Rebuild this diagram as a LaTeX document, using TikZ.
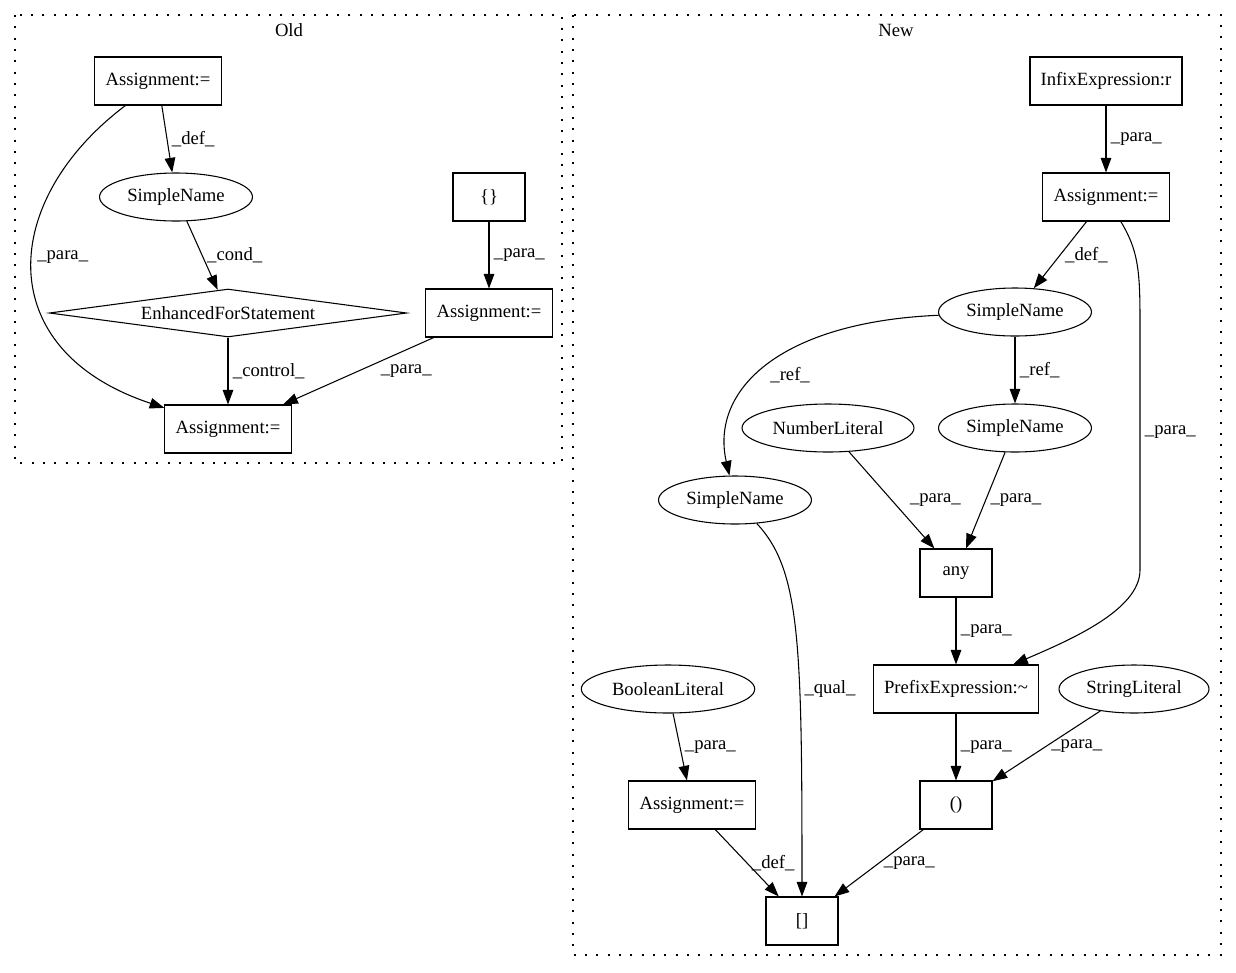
\documentclass[tikz,border=0pt]{standalone}
\usepackage{fontspec}
\setmainfont{Liberation Serif}
\usetikzlibrary{arrows.meta,shapes.geometric}

\tikzset{
  box/.style={rectangle, draw, minimum width=54pt, minimum height=36pt, inner xsep=8pt},
  oval/.style={ellipse, draw, minimum height=36pt, inner xsep=4pt},
  loopcond/.style={diamond, draw, aspect=7, minimum width=268pt, minimum height=36pt, inner sep=0pt},
  cluster/.style={-, draw, dash pattern=on 1.5pt off 7pt},
}

\begin{document}
\begin{tikzpicture}[x=0.75pt, y=-0.75pt, ->, >={Triangle[length=11pt,width=8pt]},
    line width=0.8pt, font=\fontsize{14}{16}\selectfont]

    \useasboundingbox (0,0) rectangle (1236,972);

    % clusters
    \draw[cluster] (15,15) rectangle (562,463);
    \node (oldtitle) at (289,30) {Old};
    \draw[cluster] (573,15) rectangle (1221,955);
    \node (newtitle) at (896,30) {New};

    % old
    \node[box] (oldasg1) at (158,81) {Assignment:=};
    \node[oval] (oldsn) at (176,197) {SimpleName};
    \node[box] (oldbrace) at (489,197) {\{\}};
    \node[loopcond] (oldfor) at (228,313) {EnhancedForStatement};
    \node[box] (oldasg2) at (489,313) {Assignment:=};
    \node[box] (oldasg3) at (228,429) {Assignment:=};

    % new
    \node[box] (newinfix) at (1106,81) {InfixExpression:r};
    \node[box] (newasg1) at (1106,197) {Assignment:=};
    \node[oval] (newsn1) at (1015,312) {SimpleName};
    \node[oval] (newnum) at (828,428) {NumberLiteral};
    \node[oval] (newsn2) at (1015,428) {SimpleName};
    \node[oval] (newsn3) at (735,500) {SimpleName};
    \node[box] (newany) at (956,573) {any};
    \node[oval] (newbool) at (668,689) {BooleanLiteral};
    \node[box] (newprefix) at (956,689) {PrefixExpression:\textasciitilde};
    \node[oval] (newstr) at (1134,689) {StringLiteral};
    \node[box] (newasg2) at (692,805) {Assignment:=};
    \node[box] (newcall) at (956,805) {()};
    \node[box] (newidx) at (802,921) {[]};

    \path
    %old paths
    (oldasg1) edge node [right] {\_def\_} (oldsn)
    (oldsn) edge node [right] {\_cond\_} (oldfor)
    (oldbrace) edge node [right] {\_para\_} (oldasg2)
    (oldfor) edge node [right] {\_control\_} (oldasg3)
    (oldasg2) edge node [right=13pt] {\_para\_} (oldasg3)
    %new paths
    (newinfix) edge node [right] {\_para\_} (newasg1)
    (newasg1) edge node [right] {\_def\_} (newsn1)
    (newsn1) edge node [right] {\_ref\_} (newsn2)
    (newnum) edge node [right=10pt] {\_para\_} (newany)
    (newsn2) edge node [right] {\_para\_} (newany)
    (newany) edge node [right] {\_para\_} (newprefix)
    (newbool) edge node [right] {\_para\_} (newasg2)
    (newprefix) edge node [right] {\_para\_} (newcall)
    (newstr) edge node [right] {\_para\_} (newcall)
    (newasg2) edge node [right] {\_def\_} (newidx)
    (newcall) edge node [right] {\_para\_} (newidx);

    \draw (oldasg1) .. controls (0,200) and (-10,350) .. (oldasg3) node [pos=.46,right] {\_para\_};
    \draw (newasg1) .. controls (1138,250) and (1140,270) .. (1140,320)
        -- (1140,570) node [pos=.45,right] {\_para\_}
        .. controls (1140,610) and (1070,640) .. (newprefix);
    \draw (newsn1) .. controls (780,322) and (710,390) .. (newsn3) node [pos=.55,right=6pt] {\_ref\_};
    \draw (newsn3) .. controls (800,570) and (802,640) .. (newidx) node [pos=.65,right] {\_qual\_};

\end{tikzpicture}
\end{document}
